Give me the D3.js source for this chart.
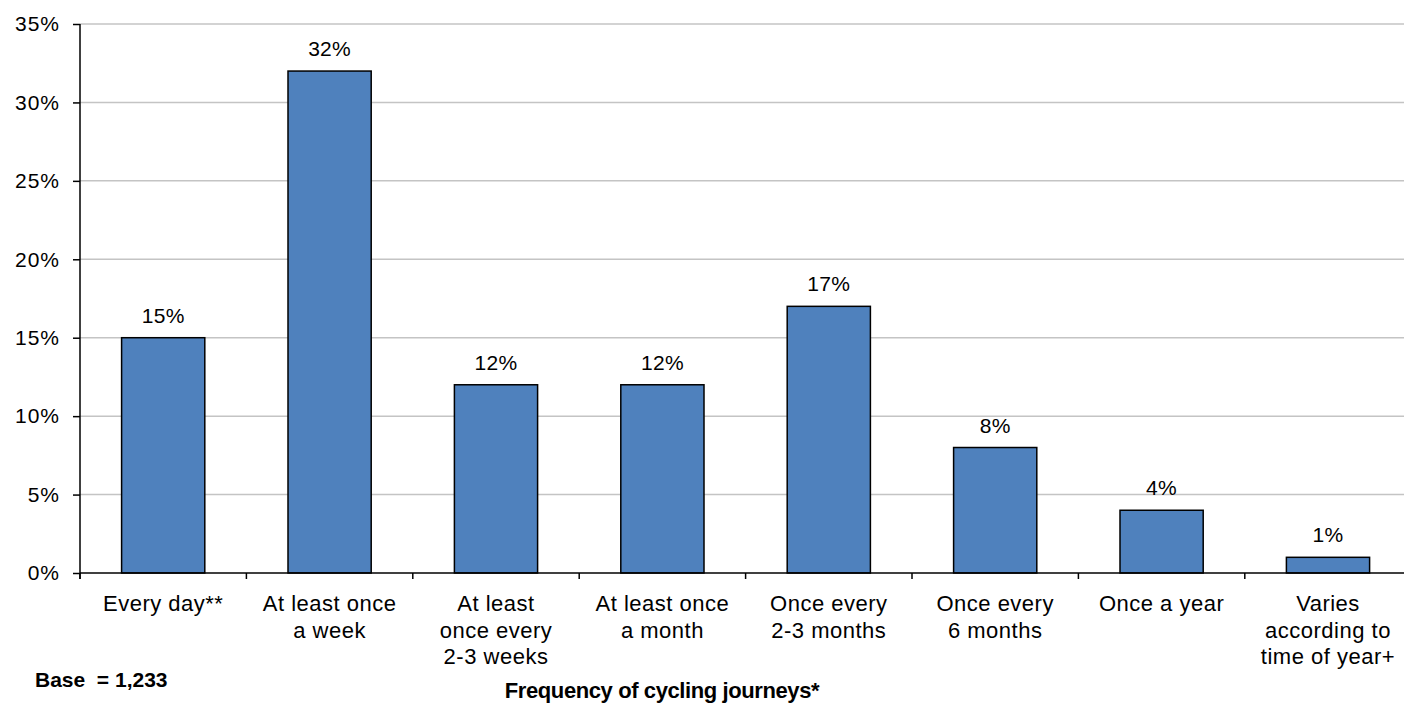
<!DOCTYPE html>
<html>
<head>
<meta charset="utf-8">
<script src="https://cdn.jsdelivr.net/npm/d3@7"></script>
<style>
  html, body { margin: 0; padding: 0; background: #fff; }
  svg { display: block; font-family: "Liberation Sans", Arial, sans-serif; }
</style>
</head>
<body>
<svg id="chart" width="1404" height="704"></svg>
<script>
// Frequency of cycling journeys — share of respondents
const categories = [
  "Every day**",
  "At least once\na week",
  "At least\nonce every\n2-3 weeks",
  "At least once\na month",
  "Once every\n2-3 months",
  "Once every\n6 months",
  "Once a year",
  "Varies\naccording to\ntime of year+"
];
const shares = [15, 32, 12, 12, 17, 8, 4, 1];
const yTicks = [0, 5, 10, 15, 20, 25, 30, 35];
const axisTitle = "Frequency of cycling journeys*";
const baseNote = "Base  = 1,233";

const svg = d3.select("#chart");
const plotLeft = 80, plotTop = 24, plotBottom = 573;
const step = 166.4;
const plotRight = plotLeft + categories.length * step;

const x = d3.scaleBand()
  .domain(categories)
  .range([plotLeft, plotRight])
  .paddingInner(0.5)
  .paddingOuter(0.25);

const y = d3.scaleLinear()
  .domain([0, 35])
  .range([plotBottom, plotTop]);

// horizontal gridlines
svg.append("g")
  .selectAll("line")
  .data(yTicks.filter(d => d > 0))
  .join("line")
  .attr("x1", plotLeft).attr("x2", plotRight)
  .attr("y1", d => y(d)).attr("y2", d => y(d))
  .attr("stroke", "#c4c4c4")
  .attr("stroke-width", 1.5);

// y axis
const yAxis = svg.append("g")
  .attr("transform", `translate(${plotLeft},0)`)
  .call(d3.axisLeft(y)
    .tickValues(yTicks)
    .tickSize(7)
    .tickPadding(13)
    .tickFormat(d => d + "%"));
yAxis.select(".domain").remove();
yAxis.selectAll(".tick line").attr("stroke", "#000").attr("stroke-width", 1.5);
yAxis.selectAll(".tick text")
  .attr("fill", "#000")
  .style("font-size", "21px")
  .style("letter-spacing", "1px");
svg.append("line")
  .attr("x1", plotLeft).attr("x2", plotLeft)
  .attr("y1", plotTop).attr("y2", plotBottom + 6)
  .attr("stroke", "#000").attr("stroke-width", 1.5);

// bars
svg.append("g")
  .selectAll("rect")
  .data(shares)
  .join("rect")
  .attr("x", (d, i) => x(categories[i]))
  .attr("y", d => y(d))
  .attr("width", x.bandwidth())
  .attr("height", d => y(0) - y(d))
  .attr("fill", "#4f81bd")
  .attr("stroke", "#000")
  .attr("stroke-width", 1.5);

// value labels
svg.append("g")
  .selectAll("text")
  .data(shares)
  .join("text")
  .attr("x", (d, i) => x(categories[i]) + x.bandwidth() / 2)
  .attr("y", d => y(d) - 15)
  .attr("text-anchor", "middle")
  .style("font-size", "21px")
  .style("letter-spacing", "0.3px")
  .text(d => d + "%");

// x axis line and category boundary ticks
svg.append("line")
  .attr("x1", plotLeft).attr("x2", plotRight)
  .attr("y1", plotBottom).attr("y2", plotBottom)
  .attr("stroke", "#000").attr("stroke-width", 1.5);
svg.append("g")
  .selectAll("line")
  .data(d3.range(categories.length + 1))
  .join("line")
  .attr("x1", i => plotLeft + i * x.step())
  .attr("x2", i => plotLeft + i * x.step())
  .attr("y1", plotBottom).attr("y2", plotBottom + 6)
  .attr("stroke", "#000").attr("stroke-width", 1.5);

// category labels
const catLabels = svg.append("g")
  .selectAll("text")
  .data(categories)
  .join("text")
  .attr("x", d => x(d) + x.bandwidth() / 2)
  .attr("y", 611)
  .attr("text-anchor", "middle")
  .style("font-size", "22px")
  .style("letter-spacing", "0.5px");
catLabels.selectAll("tspan")
  .data(d => d.split("\n"))
  .join("tspan")
  .attr("x", function () { return this.parentNode.getAttribute("x"); })
  .attr("dy", (d, i) => i === 0 ? 0 : 26.5)
  .text(d => d);

// axis title and base note
svg.append("text")
  .attr("x", 662)
  .attr("y", 698)
  .attr("text-anchor", "middle")
  .style("font-size", "22px")
  .style("font-weight", "bold")
  .style("letter-spacing", "-0.4px")
  .text(axisTitle);

svg.append("text")
  .attr("x", 35)
  .attr("y", 687)
  .style("font-size", "21px")
  .style("font-weight", "bold")
  .style("white-space", "pre")
  .text(baseNote);
</script>
</body>
</html>
